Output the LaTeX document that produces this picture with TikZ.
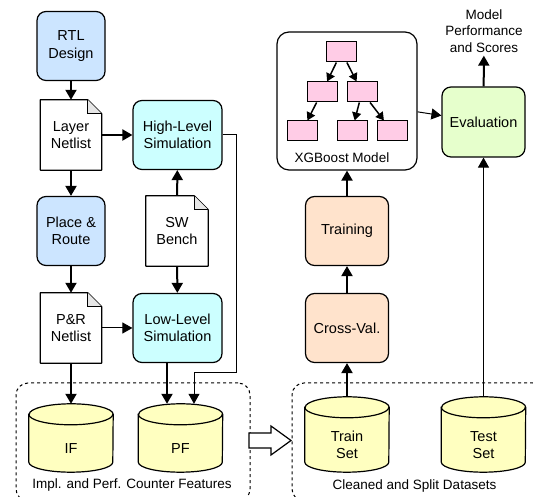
\documentclass[tikz,border=0pt]{standalone}
\usepackage{fontspec}
\setmainfont{Liberation Sans}
\usetikzlibrary{arrows.meta,backgrounds}

\definecolor{rtlblue}{HTML}{CCE5FF}
\definecolor{simcyan}{HTML}{CCFFFF}
\definecolor{mlpeach}{HTML}{FFE3CC}
\definecolor{evalgreen}{HTML}{E6FFCC}
\definecolor{dbyellow}{HTML}{FFFFC0}
\definecolor{treepink}{HTML}{FFCCE6}
\definecolor{foldgray}{HTML}{E6E6E6}

\tikzset{
  every node/.style={font=\fontsize{14.5}{17.5}\selectfont, align=center, inner sep=0pt},
  procbox/.style={draw, rounded corners=9pt, line width=1.2pt, minimum height=69pt, minimum width=#1},
  procbox/.default=68pt,
  docbox/.style={minimum width=#1, minimum height=70pt},
  docbox/.default=61pt,
  dbbox/.style={minimum width=84pt, minimum height=#1},
  groupbox/.style={draw, dashed, rounded corners=12pt, line width=1pt, minimum height=118pt},
  grouplabel/.style={font=\fontsize{13.5}{16.5}\selectfont},
  thickarr/.style={line width=2pt, -{Triangle[length=10pt,width=11pt]}},
  thinarr/.style={line width=1pt, -{Triangle[length=10pt,width=11pt]}},
  treebox/.style={draw, fill=treepink, line width=1pt, minimum width=30pt, minimum height=20pt},
  treearr/.style={line width=1.5pt, -{Triangle[length=8pt,width=9pt]}}
}

% document outline with folded corner
\newcommand{\docfold}[1]{%
  \draw[line width=1.2pt, line join=round] (#1.south west) -- (#1.north west) -- ([xshift=-14pt]#1.north east)
    -- ([yshift=-14pt]#1.north east) -- (#1.south east) -- cycle;
  \filldraw[fill=foldgray, line width=0.8pt] ([xshift=-14pt]#1.north east) -- ([xshift=-14pt,yshift=-14pt]#1.north east)
    -- ([yshift=-14pt]#1.north east);
}
% database cylinder behind a dbbox node
\newcommand{\dbshape}[1]{%
  \begin{scope}[on background layer]
    \filldraw[fill=dbyellow, line width=1.2pt] ([yshift=-10.5pt]#1.north west) -- ([yshift=10pt]#1.south west)
      arc[start angle=180, end angle=360, x radius=42pt, y radius=10pt] -- ([yshift=-10.5pt]#1.north east)
      arc[start angle=0, end angle=180, x radius=42pt, y radius=10.5pt] -- cycle;
    \draw[line width=1.2pt] ([yshift=-10.5pt]#1.north west)
      arc[start angle=180, end angle=360, x radius=42pt, y radius=10.5pt];
  \end{scope}
}

\begin{document}
\begin{tikzpicture}[x=1pt, y=1pt]
  \useasboundingbox (0,0) rectangle (533,497);
  \clip (0,0) rectangle (533,497);

  % hardware flow
  \node (rtl) [procbox, fill=rtlblue] at (71,451) {RTL\\Design};
  \node (lnet) [docbox] at (71,362) {Layer\\Netlist};
  \node (highsim) [procbox=89pt, fill=simcyan] at (177.5,362) {High-Level\\Simulation};
  \node (pnr) [procbox, fill=rtlblue] at (71,266) {Place \&\\Route};
  \node (swb) [docbox=62pt] at (177,266) {SW\\Bench};
  \node (prnet) [docbox] at (71,169) {P\&R\\Netlist};
  \node (lowsim) [procbox=89pt, fill=simcyan] at (177.5,169) {Low-Level\\Simulation};
  \docfold{lnet}
  \docfold{swb}
  \docfold{prnet}

  % features
  \node (featbox) [groupbox, minimum width=234pt] at (133,55) {};
  \node (featlabel) [grouplabel] at (132,12) {Impl. and Perf. Counter Features};
  \node (ifdb) [dbbox=68pt, label={[yshift=-10.5pt]center:IF}] at (71,59) {};
  \node (pfdb) [dbbox=68pt, label={[yshift=-10.5pt]center:PF}] at (180.5,59) {};
  \dbshape{ifdb}
  \dbshape{pfdb}

  % datasets
  \node (setbox) [groupbox, minimum width=253pt] at (418.5,55) {};
  \node (setlabel) [grouplabel] at (414.5,11) {Cleaned and Split Datasets};
  \node (traindb) [dbbox=75pt, label={[yshift=-10.5pt]center:Train\\Set}] at (347,62.5) {};
  \node (testdb) [dbbox=75pt, label={[yshift=-10.5pt]center:Test\\Set}] at (483.5,62.5) {};
  \dbshape{traindb}
  \dbshape{testdb}

  % learning flow
  \node (crossval) [procbox=83pt, fill=mlpeach] at (347,169) {Cross-Val.};
  \node (training) [procbox=83pt, fill=mlpeach] at (347,266) {Training};
  \node (xgb) [draw, rounded corners=12pt, line width=1.2pt, minimum width=140pt, minimum height=138pt] at (347,396) {};
  \node (xgblabel) [grouplabel] at (342,339) {XGBoost Model};
  \node (evalbox) [procbox=83pt, minimum height=70pt, fill=evalgreen] at (483.5,375) {Evaluation};
  \node (perf) [grouplabel, inner ysep=3pt] at (484,466) {Model\\Performance\\and Scores};

  % tree
  \node (root) [treebox] at (341.5,445) {};
  \node (tl) [treebox] at (322,405) {};
  \node (tr) [treebox] at (362,405) {};
  \node (tll) [treebox] at (302,366) {};
  \node (trm) [treebox] at (352,366) {};
  \node (trr) [treebox] at (392,366) {};
  \draw[treearr] (root) -- (tl);
  \draw[treearr] (root) -- (tr);
  \draw[treearr] (tl) -- (tll);
  \draw[treearr] (tr) -- (trm);
  \draw[treearr] (tr) -- (trr);

  % connectors
  \draw[thickarr] (rtl) -- (lnet);
  \draw[thickarr] (lnet) -- (highsim);
  \draw[thickarr] (lnet) -- (pnr);
  \draw[thickarr] (pnr) -- (prnet);
  \draw[thickarr] (swb) -- (highsim);
  \draw[thickarr] (swb) -- (lowsim);
  \draw[thinarr] (prnet) -- (lowsim);
  \draw[thickarr] (prnet) -- (prnet |- ifdb.north);
  \draw[thickarr] ([xshift=-13.5pt]pfdb.north |- lowsim.south) -- ([xshift=-13.5pt]pfdb.north);
  \coordinate (hlbend) at (236,124);
  \draw[thinarr] (highsim.east) -| (hlbend) -| ([xshift=13.5pt]pfdb.north);
  \draw[line width=1.2pt, fill=white] (249,64) -- (271,64) -- (271,71) -- (291,56.5) -- (271,42) -- (271,49) -- (249,49) -- cycle;
  \draw[thickarr] (traindb.north) -- (crossval);
  \draw[thickarr] (crossval) -- (training);
  \draw[thickarr] (training) -- (xgb);
  \draw[thinarr] (xgb) -- (evalbox);
  \draw[thinarr] (testdb.north) -- (evalbox);
  \draw[thickarr] (evalbox) -- (perf);
\end{tikzpicture}
\end{document}
